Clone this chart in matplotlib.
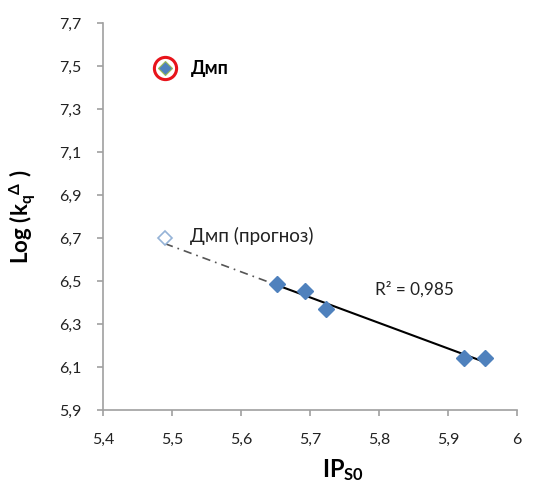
import numpy as np
import matplotlib
matplotlib.use("Agg")
import matplotlib.pyplot as plt
from matplotlib.ticker import FuncFormatter, MultipleLocator, FixedLocator

plt.rcParams["font.family"] = ["Lato", "DejaVu Sans"]
plt.rcParams["mathtext.fontset"] = "custom"
plt.rcParams["mathtext.rm"] = "Lato"
plt.rcParams["mathtext.bf"] = "Lato:bold"
plt.rcParams["mathtext.it"] = "Lato:italic"
plt.rcParams["mathtext.fallback"] = "stixsans"

# Measured compounds
ip_s0 = [5.652, 5.693, 5.723, 5.924, 5.954]
log_kq = [6.486, 6.455, 6.368, 6.140, 6.142]

# Dmp: experimental and predicted values
dmp_x = 5.49
dmp_y = 7.49
dmp_pred_y = 6.70

r2_label = "R² = 0,985"

blue = "#4F81BD"

fig = plt.figure(figsize=(5.47, 4.84), dpi=100)
ax = fig.add_axes([0.188, 0.153, 0.757, 0.799])

# Linear fit through measured points
k, b = np.polyfit(ip_s0, log_kq, 1)
xs = np.array([min(ip_s0), max(ip_s0)])
ax.plot(xs, k * xs + b, color="black", lw=1.5, zorder=2)
xe = np.array([dmp_x, min(ip_s0)])
ax.plot(xe, k * xe + b, color="#555555", lw=1.2, ls=(0, (5, 3, 1, 3)), zorder=2)

ax.plot(ip_s0, log_kq, ls="none", marker="D", ms=8.5, color=blue,
        mec=blue, zorder=3)
ax.plot([dmp_x], [dmp_pred_y], ls="none", marker="D", ms=7, mfc="white",
        mec="#95B3D7", mew=1.2, zorder=3)
ax.plot([dmp_x], [dmp_y], ls="none", marker="D", ms=7.5, color=blue,
        mec="#9BBB59", mew=0.8, zorder=3)
ax.plot([dmp_x], [dmp_y], ls="none", marker="o", ms=16, mfc="none",
        mec="#E8141B", mew=2.2, zorder=4)

ax.text(5.527, dmp_y, "Дмп", fontsize=13, fontweight="bold", va="center",
        ha="left", color="black")
ax.text(5.527, dmp_pred_y + 0.01, "Дмп (прогноз)", fontsize=13.6, va="center",
        ha="left", color="#222222")
ax.text(5.794, 6.46, r2_label, fontsize=12.3, va="center", ha="left",
        color="#222222")

ax.set_xlim(5.4, 6.0)
ax.set_ylim(5.9, 7.7)
ax.xaxis.set_major_locator(MultipleLocator(0.1))
ax.yaxis.set_major_locator(FixedLocator([5.9, 6.1, 6.3, 6.5, 6.7, 6.9, 7.1, 7.3, 7.5, 7.7]))

def comma(v, pos):
    s = f"{v:.1f}"
    if s == "6.0":
        return "6"
    return s.replace(".", ",")

ax.xaxis.set_major_formatter(FuncFormatter(comma))
ax.yaxis.set_major_formatter(FuncFormatter(comma))

for side in ("top", "right"):
    ax.spines[side].set_visible(False)
for side in ("left", "bottom"):
    ax.spines[side].set_color("#A0A0A0")
    ax.spines[side].set_linewidth(1.2)
ax.tick_params(direction="out", length=4.5, width=1.2, color="#A0A0A0",
               labelsize=11.5, labelcolor="#222222")
ax.tick_params(axis="y", pad=11)
ax.tick_params(axis="x", pad=12)

fig.text(0.627, 0.002, r"$\mathbf{IP}_{\mathbf{S0}}$", fontsize=17,
         ha="center", va="bottom")
ax.set_ylabel(r"$\mathbf{Log\ (k_q}^{\mathbf{\Delta}}\mathbf{\ )}$", fontsize=16,
              labelpad=15)

fig.savefig("out.png", dpi=100)
